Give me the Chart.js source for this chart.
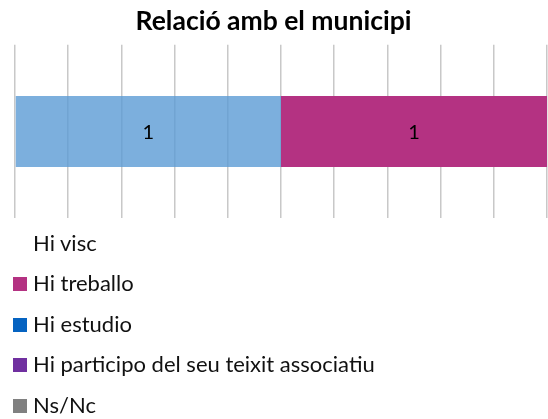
<!DOCTYPE html>
<html>
<head>
<meta charset="utf-8">
<script src="https://cdn.jsdelivr.net/npm/chart.js@4"></script>
<style>
  body { margin: 0; background: #fff; }
  .wrap { position: relative; width: 548px; height: 419px; }
  #grafico { position: absolute; left: 0; top: 0; }
  #leyenda { position: absolute; left: 13px; top: 222px; font-family: Lato, "Noto Sans", sans-serif; font-size: 22px; color: #111; }
  #leyenda .item { height: 40.5px; display: flex; align-items: center; }
  #leyenda .box { width: 14px; height: 14px; margin-right: 6px; margin-top: 3px; }
</style>
</head>
<body>
<div class="wrap">
  <canvas id="grafico" width="548" height="419"></canvas>
  <div id="leyenda"></div>
</div>
<script>
//Datos
const categorias = ['Relació']
const series = ['Hi visc', 'Hi treballo', 'Hi estudio', 'Hi participo del seu teixit associatiu', 'Ns/Nc']
const valores = [1, 1, 0, 0, 0]
const colores = ['rgba(91,155,213,0.8)', '#B43282', '#0563C1', '#7030A0', '#808080']
// en el original "Hi visc" sale sin cuadro en la leyenda
const coloresLeyenda = ['transparent', '#B43282', '#0563C1', '#7030A0', '#808080']

//Plugin para escribir el valor dentro de cada tramo
const etiquetas = {
    id: 'etiquetas',
    afterDatasetsDraw(chart) {
        const ctx = chart.ctx
        ctx.save()
        ctx.font = '20px Lato, "Noto Sans", sans-serif'
        ctx.fillStyle = '#000'
        ctx.textAlign = 'center'
        ctx.textBaseline = 'middle'
        chart.data.datasets.forEach((ds, i) => {
            const meta = chart.getDatasetMeta(i)
            meta.data.forEach((bar, j) => {
                if (!ds.data[j]) return
                const x = (bar.x + bar.base) / 2
                ctx.fillText(ds.data[j], x, bar.y + 1)
            })
        })
        ctx.restore()
    }
}

const ctx = document.getElementById('grafico').getContext('2d')
const chartInstance = new Chart(ctx, {
    type: 'bar',
    data: {
        labels: categorias,
        datasets: series.map((s, i) => ({
            label: s,
            data: [valores[i]],
            backgroundColor: colores[i],
            borderWidth: 0,
            categoryPercentage: 1,
            barPercentage: 0.41
        }))
    },
    options: {
        indexAxis: 'y',
        responsive: false,
        animation: false,
        layout: { padding: { left: 0, right: 1, bottom: 201 } },
        plugins: {
            legend: { display: false },
            tooltip: { enabled: false },
            title: {
                display: true,
                text: 'Relació amb el municipi',
                color: '#000',
                font: { family: 'Lato, "Noto Sans", sans-serif', size: 26.5, weight: 'bold' },
                padding: { top: 6, bottom: 7 }
            }
        },
        scales: {
            x: {
                stacked: true,
                min: 0,
                max: 2,
                ticks: { display: false, stepSize: 0.2 },
                grid: { color: '#C8C8C8', lineWidth: 1.5, drawTicks: false },
                border: { display: false }
            },
            y: {
                stacked: true,
                ticks: { display: false },
                grid: { display: false, drawTicks: false },
                border: { display: false },
                afterFit: (scale) => { scale.width = 15 }
            }
        }
    },
    plugins: [etiquetas]
})

//Leyenda en HTML, una fila por serie
const leyenda = document.getElementById('leyenda')
leyenda.innerHTML = series.map((s, i) => `
    <div class="item"><span class="box" style="background:${coloresLeyenda[i]}"></span>${s}</div>
`).join('')
</script>
</body>
</html>
